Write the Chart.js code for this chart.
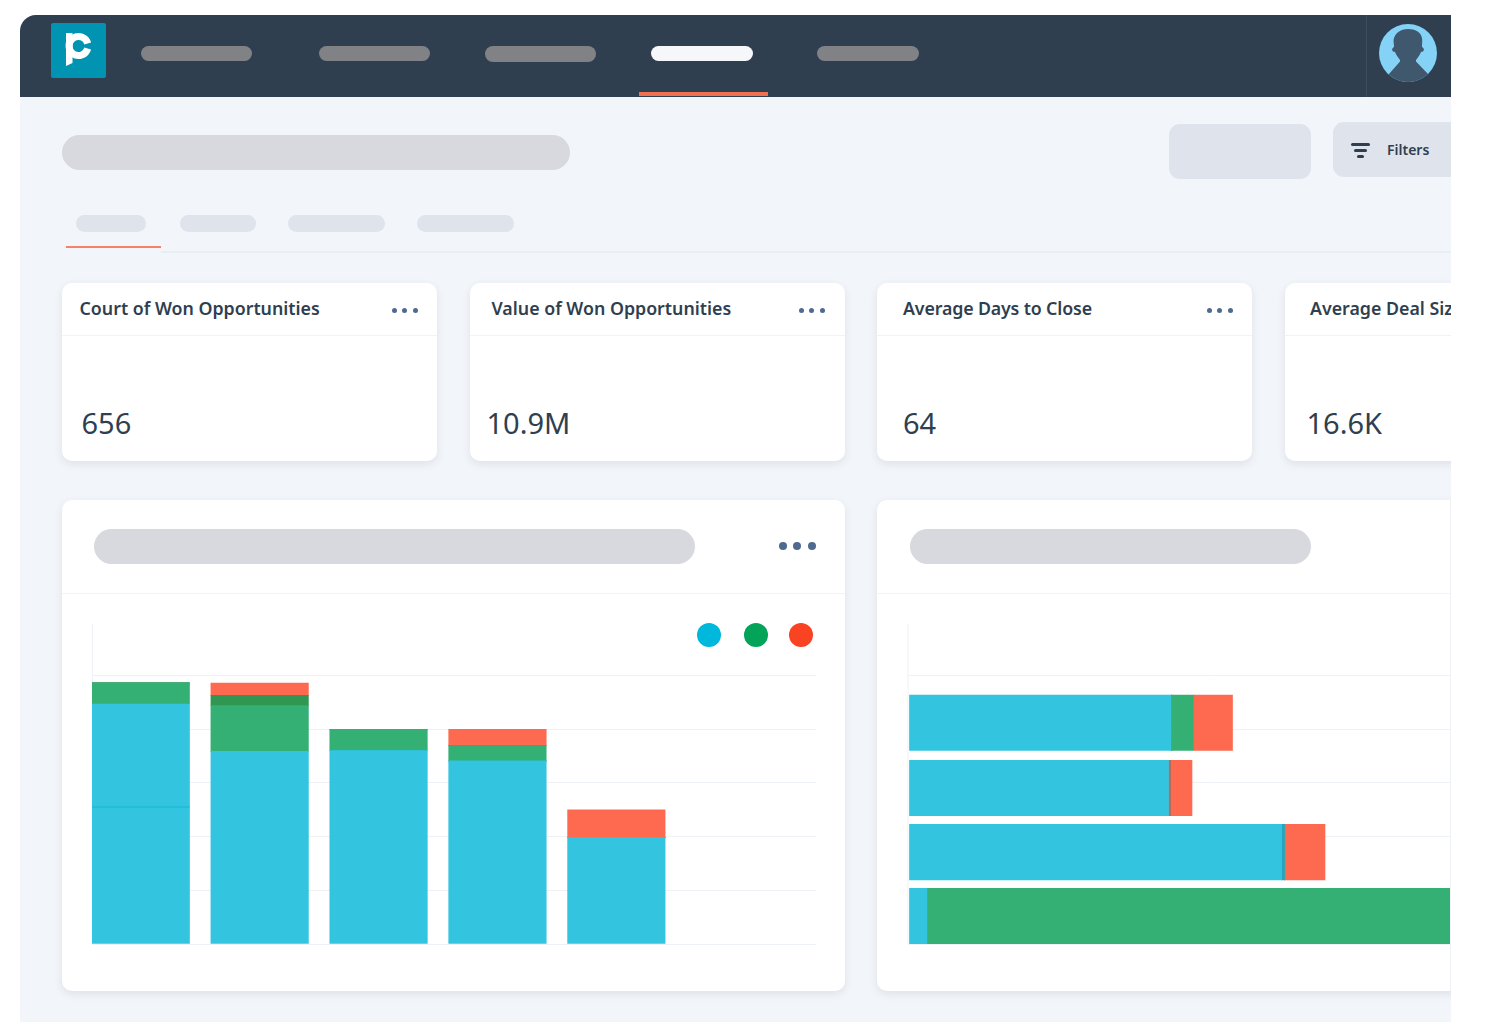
<!DOCTYPE html>
<html><head><meta charset="utf-8">
<script src="https://cdn.jsdelivr.net/npm/chart.js@4/dist/chart.umd.min.js"></script>
<style>
html,body{margin:0;padding:0;background:#fff;overflow:hidden}
#app{position:absolute;left:20px;top:15px;width:1431px;height:1007px;background:#f2f5f9;overflow:hidden;border-top-left-radius:16px;font-family:"Noto Sans",sans-serif}
.a{position:absolute}
.p{position:absolute;border-radius:99px}
.card{position:absolute;background:#fff;border-radius:10px;box-shadow:0 3px 9px rgba(60,80,110,.11)}
.t{position:absolute;color:#2f3f50;white-space:nowrap;font-weight:600;font-size:17.8px;line-height:24px}
.v{position:absolute;color:#2f3f50;white-space:nowrap;font-size:29px;line-height:36px}
.d{position:absolute;border-radius:50%}
canvas{display:block}
</style></head><body>
<div id="app">
<div class="a" style="left:0;top:0;width:1431px;height:82px;background:#2f3f50"></div>
<div class="a" style="left:30.500px;top:8px;width:55px;height:55px;background:#0093b2;border-radius:2px"></div>
<svg class="a" style="left:30px;top:8px" width="56" height="56" viewBox="0 0 56 56"><path fill="#fff" d="M16 10h6.500v30L16 43z"/><path fill="none" stroke="#fff" stroke-width="7" d="M37.700 20.500A9.500 9.500 0 1 0 37.700 25.500"/></svg>
<div class="p" style="left:121px;top:31px;width:111px;height:15px;background:#808285"></div>
<div class="p" style="left:299px;top:31px;width:111px;height:15px;background:#808285"></div>
<div class="p" style="left:465px;top:31px;width:111px;height:16px;background:#808285"></div>
<div class="p" style="left:631px;top:31px;width:102px;height:15px;background:#f5f7fa"></div>
<div class="p" style="left:797px;top:31px;width:102px;height:15px;background:#808285"></div>
<div class="a" style="left:619px;top:77px;width:129px;height:4px;background:#f0704f"></div>
<div class="a" style="left:1346px;top:0;width:1px;height:82px;background:#3b4c5e"></div>
<svg class="a" style="left:1359px;top:9px" width="58" height="58" viewBox="0 0 58 58"><circle cx="29" cy="29" r="29" fill="#84d2f6"/><clipPath id="c"><circle cx="29" cy="29" r="29"/></clipPath><path clip-path="url(#c)" fill="#3f586e" d="M29 5c7 0 13 3 14 9 .5 3 0 5 0 9 2 1 2.500 3 1 4.500L42 28c-1 3-3 5-5 8l0 1.500L49 50V60H10V50L21 37.500V36c-2-3-4-5-5-8l-2-.5c-1.500-1.500-1-3.500 1-4.500 0-4-1-6 0-9 2-6 8-9 14-9z"/></svg>

<div class="p" style="left:42px;top:120px;width:508px;height:35px;background:#d8d9de"></div>
<div class="a" style="left:1149px;top:109px;width:142px;height:55px;background:#dfe3ec;border-radius:11px"></div>
<div class="a" style="left:1313px;top:107px;width:140px;height:55px;background:#dfe3ec;border-radius:11px"></div>
<div class="a" style="left:1331px;top:128px;width:19px;height:3px;background:#2f3f50;border-radius:2px"></div>
<div class="a" style="left:1334px;top:134px;width:13px;height:3px;background:#2f3f50;border-radius:2px"></div>
<div class="a" style="left:1337px;top:140px;width:7px;height:3px;background:#2f3f50;border-radius:2px"></div>
<div class="t" style="left:1367px;top:123px;font-size:14px;font-weight:600">Filters</div>

<div class="p" style="left:56px;top:200px;width:70px;height:17px;background:#dfe3ec"></div>
<div class="p" style="left:160px;top:200px;width:76px;height:17px;background:#dfe3ec"></div>
<div class="p" style="left:268px;top:200px;width:97px;height:17px;background:#dfe3ec"></div>
<div class="p" style="left:397px;top:200px;width:97px;height:17px;background:#dfe3ec"></div>
<div class="a" style="left:141px;top:236px;width:1290px;height:2px;background:#e9edf4"></div>
<div class="a" style="left:46px;top:231px;width:95px;height:2px;background:#f58268"></div>

<div class="card" style="left:42px;top:268px;width:375px;height:178px"></div>
<div class="card" style="left:449.500px;top:268px;width:375px;height:178px"></div>
<div class="card" style="left:857px;top:268px;width:375px;height:178px"></div>
<div class="card" style="left:1264.500px;top:268px;width:375px;height:178px"></div>
<div class="a" style="left:42px;top:320px;width:375px;height:1px;background:#f1f3f7"></div>
<div class="a" style="left:449.500px;top:320px;width:375px;height:1px;background:#f1f3f7"></div>
<div class="a" style="left:857px;top:320px;width:375px;height:1px;background:#f1f3f7"></div>
<div class="a" style="left:1264.500px;top:320px;width:375px;height:1px;background:#f1f3f7"></div>
<div class="t" style="left:59.500px;top:281px">Court of Won Opportunities</div>
<div class="t" style="left:471.500px;top:281px">Value of Won Opportunities</div>
<div class="t" style="left:883px;top:281px;letter-spacing:-.14px">Average Days to Close</div>
<div class="t" style="left:1290px;top:281px">Average Deal Size</div>
<div class="v" style="left:61.500px;top:390px">656</div>
<div class="v" style="left:466.500px;top:390px">10.9M</div>
<div class="v" style="left:883px;top:390px">64</div>
<div class="v" style="left:1286.500px;top:390px">16.6K</div>
<div id="kebabs"></div>

<div class="card" style="left:42px;top:485px;width:783px;height:491px"></div>
<div class="card" style="left:857px;top:485px;width:783px;height:491px"></div>
<div class="a" style="left:42px;top:578px;width:783px;height:1px;background:#f1f3f7"></div>
<div class="a" style="left:857px;top:578px;width:783px;height:1px;background:#f1f3f7"></div>
<div class="p" style="left:74px;top:514px;width:601px;height:35px;background:#d8d9de"></div>
<div class="p" style="left:890px;top:514px;width:401px;height:35px;background:#d8d9de"></div>
<div class="d" style="left:758.500px;top:527px;width:8px;height:8px;background:#50698f"></div>
<div class="d" style="left:773px;top:527px;width:8px;height:8px;background:#50698f"></div>
<div class="d" style="left:788px;top:527px;width:8px;height:8px;background:#50698f"></div>

<div class="a" style="left:42px;top:575px;width:783px;height:380px"><canvas id="c1"></canvas></div>
<div class="a" style="left:857px;top:575px;width:640px;height:380px"><canvas id="c2"></canvas></div>
<div class="d" style="left:677px;top:608px;width:24px;height:24px;background:#00b8dc"></div>
<div class="d" style="left:724px;top:608px;width:24px;height:24px;background:#04a35a"></div>
<div class="d" style="left:768.500px;top:608px;width:24px;height:24px;background:#f94322"></div>
<div class="a" style="left:1430px;top:485px;width:1px;height:491px;background:#eef1f6"></div>
</div>
<script>
// vertical stacked chart
const barPositions = [0, 1, 2, 3, 4];
const blueLower   = [25.3, 35.9, 36.0, 34.05, 19.8];
const blueUpper   = [19.4, 0, 0, 0, 0];
const greenValues = [4.0, 8.5, 4.0, 2.9, 0];
const darkGreen   = [0, 1.9, 0, 0, 0];
const redValues   = [0, 2.3, 0, 3.05, 5.2];
// horizontal stacked chart
const rowPositions = [5.2, 17.1, 29.05, 41.2];
const rowBlue  = [1.8, 37.2, 25.9, 26.2];
const rowSeam  = [0, 0.3, 0.2, 0];
const rowGreen = [60, 0, 0, 2.2];
const rowRed   = [0, 4.05, 2.15, 3.9];

const BLUE='#33c5e0', BLUE_LINE='#1ebbd8', GREEN='#34b075', DARK='#329653', RED='#fd6a50', GRID='#eef1f6';

const pts=(xs,ys)=>ys.map((y,i)=>({x:xs[i],y}));
const ptsH=(ys,xs)=>xs.map((x,i)=>({x,y:ys[i]}));
function yAxis(){return {type:'linear',stacked:true,min:0,max:59.6,offset:false,afterFit:s=>{s.width=0},
  ticks:{display:false,stepSize:10},border:{display:false},
  grid:{offset:false,color:c=>(c.tick&&c.tick.value%10===0)?GRID:'rgba(0,0,0,0)',lineWidth:1,drawTicks:false}}}
const axisLine={id:'axisLine',beforeDatasetsDraw(c){const a=c.chartArea,x=c.ctx;x.save();x.strokeStyle=GRID;x.lineWidth=1;x.beginPath();x.moveTo(a.left+.5,a.top);x.lineTo(a.left+.5,a.bottom);x.stroke();x.restore()}};

Chart.defaults.animation=false;
new Chart(document.getElementById('c1'),{type:'bar',plugins:[axisLine],
 data:{datasets:[
  {label:'Blue',data:pts(barPositions,blueLower),backgroundColor:BLUE},
  {label:'Blue edge',data:pts(barPositions,blueLower.map((v,i)=>blueUpper[i]?0.3:0)),backgroundColor:BLUE_LINE},
  {label:'Blue upper',data:pts(barPositions,blueUpper.map(v=>v?v-0.3:0)),backgroundColor:BLUE},
  {label:'Green',data:pts(barPositions,greenValues),backgroundColor:GREEN},
  {label:'Green overlap',data:pts(barPositions,darkGreen),backgroundColor:DARK},
  {label:'Red',data:pts(barPositions,redValues),backgroundColor:RED}]},
 options:{responsive:true,maintainAspectRatio:false,
  layout:{padding:{left:30,right:29,top:34,bottom:26}},
  plugins:{legend:{display:false},tooltip:{enabled:false}},
  datasets:{bar:{barThickness:97.5}},
  scales:{x:{type:'linear',stacked:true,offset:false,min:-0.41,max:5.679,display:false},y:yAxis()}}});

new Chart(document.getElementById('c2'),{type:'bar',plugins:[axisLine],
 data:{datasets:[
  {label:'Blue',data:ptsH(rowPositions,rowBlue),backgroundColor:BLUE},
  {label:'Seam',data:ptsH(rowPositions,rowSeam),backgroundColor:['#000','#2aa4c0','#c0645a','#000']},
  {label:'Green',data:ptsH(rowPositions,rowGreen),backgroundColor:GREEN},
  {label:'Red',data:ptsH(rowPositions,rowRed),backgroundColor:RED}]},
 options:{indexAxis:'y',responsive:true,maintainAspectRatio:false,
  layout:{padding:{left:30.5,right:0,top:34,bottom:26}},
  plugins:{legend:{display:false},tooltip:{enabled:false}},
  datasets:{bar:{barThickness:55.5}},
  scales:{x:{type:'linear',stacked:true,offset:false,min:-0.2,max:60.75,display:false},y:yAxis()}}});

// card menus
const k=document.getElementById('kebabs');
[372,779,1187].forEach(l=>{[0,10.300,20.600].forEach(o=>{const e=document.createElement('div');e.className='d';e.style.cssText=`left:${l+o}px;top:292.500px;width:5px;height:5px;background:#50698f`;k.appendChild(e)})});
</script>
</body></html>
